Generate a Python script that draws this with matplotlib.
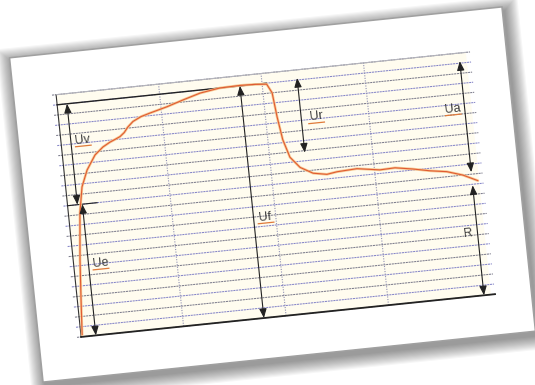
import matplotlib
matplotlib.use('Agg')
import matplotlib.pyplot as plt
from matplotlib.transforms import Affine2D
from matplotlib.patches import Polygon, Rectangle

# ---- data (chart units: time 0..100, voltage grid 0..24) ----
curve_x = [0.3, 0.9, 1.65, 2.8, 3.95, 5.6, 7.9, 10.0, 11.8, 13.0, 14.4, 15.5, 16.5, 17.9,
           20.0, 22.2, 26.5, 30.5, 34.8, 39.7, 44.6, 48.2, 51.1, 52.2, 52.8, 53.6, 54.9,
           57.1, 60.1, 63.4, 65.9, 70.8, 76.3, 80.0, 84.3, 88.4, 92.4, 96.2, 99.7]
curve_y = [0.2, 3.6, 7.55, 12.16, 14.69, 16.3, 17.7, 18.4, 18.8, 19.0, 19.25, 19.6, 20.1, 20.6,
           21.0, 21.25, 21.7, 22.2, 22.7, 23.0, 23.05, 23.0, 22.9, 22.0, 19.6, 17.3, 15.5,
           14.4, 13.7, 13.45, 13.6, 13.7, 13.35, 13.4, 13.1, 12.75, 12.5, 12.0, 11.3]
h_grid = list(range(0, 25))
v_grid = [25, 50, 75]
peak_level = 23.0
step_level = 13.0

arrow_x = [2.4, 3.6, 44.6, 58.6, 98.3, 98.3]
arrow_y0 = [23.0, 13.0, 23.0, 23.2, 23.2, 10.9]
arrow_y1 = [13.0, 0.0, 0.0, 15.8, 12.2, 0.0]

label_text = ['Uv', 'Ue', 'Uf', 'Ur', 'Ua', 'R']
label_x = [5.3, 6.5, 47.5, 62.2, 95.4, 96.0]
label_y = [19.3, 7.05, 9.9, 19.2, 18.6, 6.2]
label_underline = [True, True, True, True, True, False]

# ---- figure ----
fig = plt.figure(figsize=(5.35, 3.85), dpi=100)
ax = fig.add_axes([0, 0, 1, 1])
ax.set_xlim(0, 535)
ax.set_ylim(385, 0)
ax.axis('off')

ANG = -5.9
T_local = Affine2D().rotate_deg(ANG).translate(272.5, 194.5) + ax.transData
T_data = Affine2D().scale(4.12, -10.146).translate(-205, 122) + T_local

# shadow
W, H = 247.5, 163
for k in range(1, 14):
    e = k * 1.1
    ox, oy = 2.0, 4.5
    pts = [(-W - e + ox, -H - e + oy), (W + e + ox, -H - e + oy),
           (W + e + ox, H + e + oy), (-W - e + ox, H + e + oy)]
    ax.add_patch(Polygon(pts, closed=True, transform=T_local, facecolor='black',
                         edgecolor='none', alpha=0.035, zorder=1))

# card
ax.add_patch(Polygon([(-W, -H), (W, -H), (W, H), (-W, H)], closed=True,
                     transform=T_local, facecolor='white', edgecolor='#a0a0a0',
                     lw=1.1, zorder=2))

# plot area
ax.add_patch(Rectangle((0, 0), 100, 24, transform=T_data, facecolor='#fffcef',
                       edgecolor='none', zorder=3))

# horizontal grid
for i, y in enumerate(h_grid):
    col = '#8585c8' if i % 2 else '#7c7c8c'
    ax.plot([-1.0, 101], [y, y], transform=T_data, color=col, lw=0.75,
            ls=(0, (2, 0.7)), zorder=4)

# vertical dotted grid
for x in v_grid:
    ax.plot([x, x], [0, 24], transform=T_data, color='#9090b4', lw=0.8,
            ls=(0, (1, 1.3)), zorder=4)

# frame
ax.plot([0, 0], [0, 24], transform=T_data, color='#333333', lw=0.8, zorder=5)
ax.plot([0, 101], [0, 0], transform=T_data, color='#222222', lw=1.3, zorder=5)
ax.plot([0, 100], [24, 24], transform=T_data, color='#b4b4bc', lw=0.8, zorder=5)

# reference levels
ax.plot([0, 51], [peak_level, peak_level], transform=T_data, color='#222222', lw=1.0, zorder=5)
ax.plot([0, 7.2], [step_level, step_level], transform=T_data, color='#222222', lw=0.8, zorder=5)

# curve
ax.plot(curve_x, curve_y, transform=T_data, color='#f7c58a', lw=1.9, alpha=0.9,
        solid_capstyle='round', zorder=6)
ax.plot(curve_x, curve_y, transform=T_data, color='#e05a32', lw=0.8,
        solid_capstyle='round', zorder=7)

# arrows
for x, y0, y1 in zip(arrow_x, arrow_y0, arrow_y1):
    ax.annotate('', xy=(x, y1), xytext=(x, y0), xycoords=T_data, textcoords=T_data,
                arrowprops=dict(arrowstyle='<|-|>,head_length=0.55,head_width=0.22',
                                color='#222222', lw=0.8, shrinkA=0, shrinkB=0,
                                mutation_scale=10), zorder=8)

# labels
for s, x, y, ul in zip(label_text, label_x, label_y, label_underline):
    ax.text(x, y, s, transform=T_data, rotation=-ANG, rotation_mode='anchor',
            ha='center', va='center', fontsize=9, color='#404040',
            family=['Liberation Sans', 'DejaVu Sans'], zorder=9)
    if ul:
        ax.plot([x - 1.9, x + 1.9], [y - 0.6, y - 0.6], transform=T_data,
                color='#e07a3a', lw=0.9, zorder=9)

fig.savefig('out.png', dpi=100)
